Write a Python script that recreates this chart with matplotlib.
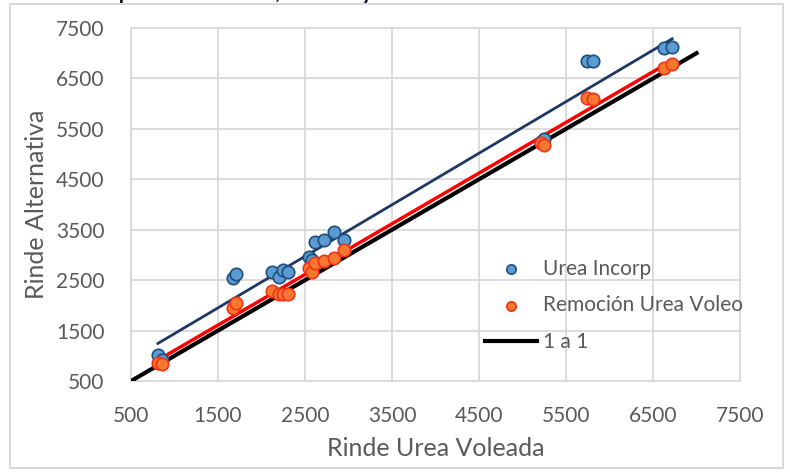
import numpy as np
import matplotlib
matplotlib.use('Agg')
import matplotlib.pyplot as plt
from matplotlib.patches import Rectangle

# rinde urea voleada (eje x), mismo sitio para las dos series
rinde_voleo = [810, 860, 1670, 1710, 2120, 2200, 2250, 2310, 2550, 2580,
               2620, 2720, 2830, 2950, 5210, 5250, 5740, 5815, 6630, 6720]
# rinde alternativa
urea_incorp = [1010, 920, 2540, 2620, 2670, 2570, 2710, 2670, 2960, 2900,
               3260, 3300, 3460, 3300, 5240, 5300, 6840, 6840, 7100, 7130]
remocion_voleo = [860, 830, 1940, 2050, 2280, 2230, 2220, 2230, 2750, 2660,
                  2840, 2870, 2930, 3100, 5210, 5180, 6120, 6090, 6700, 6790]
linea_1a1 = [500, 7000]
ticks = [500, 1500, 2500, 3500, 4500, 5500, 6500, 7500]

plt.rcParams['font.family'] = ['Lato', 'DejaVu Sans']
gris = '#595959'

fig = plt.figure(figsize=(7.9, 4.72), dpi=100)
ax = fig.add_axes([131/790, 1 - 381/472, 609/790, 353/472])

x = np.array(rinde_voleo)
xs = np.array([x.min(), x.max()])

# lineas de tendencia
p_inc = np.polyfit(x, urea_incorp, 1)
p_rem = np.polyfit(x, remocion_voleo, 1)
ax.plot(xs, np.polyval(p_inc, xs), color='#1F3864', lw=2, zorder=3)
ax.plot(xs, np.polyval(p_rem, xs), color='#FF0000', lw=2.5, zorder=3)
ax.plot(linea_1a1, linea_1a1, color='black', lw=3, zorder=3, label='1 a 1')

ax.scatter(x, urea_incorp, s=80, color='#5B9BD5', edgecolor='#1F4E79', lw=1.2,
           zorder=4, label='Urea Incorp')
ax.scatter(x, remocion_voleo, s=80, color='#F4782E', edgecolor='#F0321A', lw=1.2,
           zorder=5, label='Remoción Urea Voleo')

ax.set_xlim(500, 7500)
ax.set_ylim(500, 7500)
ax.set_xticks(ticks)
ax.set_yticks(ticks)
ax.grid(color='#D9D9D9', lw=1.3)
ax.set_axisbelow(True)
for s in ax.spines.values():
    s.set_color('#D9D9D9')
    s.set_linewidth(1.3)
ax.tick_params(length=0, labelsize=15, labelcolor=gris)
ax.tick_params(axis='y', pad=19)
ax.tick_params(axis='x', pad=18)
ax.set_xlabel('Rinde Urea Voleada', fontsize=18, color=gris, labelpad=8)
ax.set_ylabel('Rinde Alternativa', fontsize=18, color=gris, labelpad=6)

h, l = ax.get_legend_handles_labels()
orden = [1, 2, 0]
ax.legend([h[i] for i in orden], [l[i] for i in orden], frameon=False,
          fontsize=15, labelcolor=gris, loc='upper left', markerscale=0.75,
          bbox_to_anchor=(466/790, 1 - 240/472), bbox_transform=fig.transFigure,
          handlelength=2.5, handletextpad=0.3, labelspacing=0.8)

# titulo cortado arriba
fig.text(56/790, 1 + 1/472, 'Rinde por tratamiento, en ensayo', fontsize=16,
         fontweight='bold', color='#111133', va='baseline')

# borde del grafico
fig.patches.append(Rectangle((10/790, 1 - 468/472), 773/790, 464/472,
                             transform=fig.transFigure, fill=False,
                             edgecolor='#D9D9D9', lw=1.5))

plt.savefig('out.png', dpi=100)
